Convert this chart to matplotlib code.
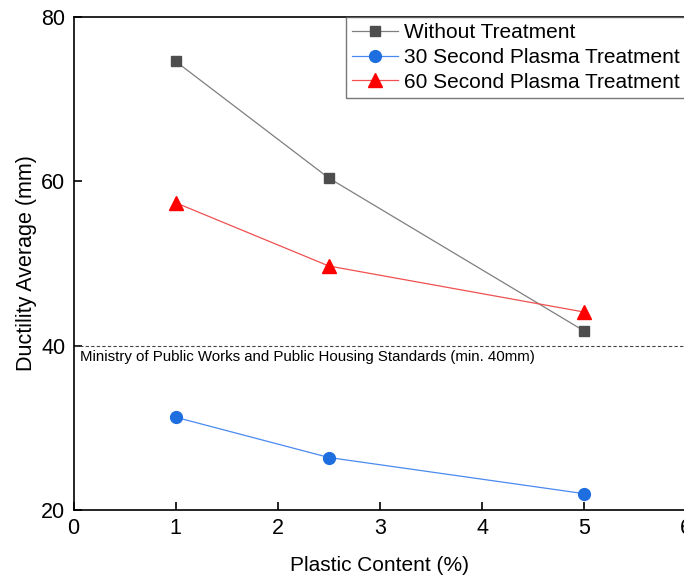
import matplotlib.pyplot as plt

plastic = [1, 2.5, 5]
without = [74.6, 60.4, 41.8]
plasma30 = [31.3, 26.4, 22.0]
plasma60 = [57.4, 49.7, 44.1]
standard = 40

plt.rcParams['font.family'] = ['Liberation Sans', 'DejaVu Sans']

fig = plt.figure(figsize=(6.84, 5.79), dpi=100)
ax = fig.add_axes([0.1076, 0.119, 0.8957, 0.8516])

ax.plot(plastic, without, color='#7f7f7f', lw=0.9, marker='s', ms=7.5,
        mfc='#4d4d4d', mec='#4d4d4d', label='Without Treatment')
ax.plot(plastic, plasma30, color='#4a8af0', lw=0.9, marker='o', ms=8.5,
        mfc='#1f6ee0', mec='#1f6ee0', label='30 Second Plasma Treatment')
ax.plot(plastic, plasma60, color='#f05050', lw=0.9, marker='^', ms=10,
        mfc='#ff0000', mec='#ff0000', label='60 Second Plasma Treatment')

ax.axhline(standard, color='#444444', lw=0.8, ls=(0, (3, 2)))
ax.text(0.06, standard - 0.5, 'Ministry of Public Works and Public Housing Standards (min. 40mm)',
        fontsize=10.8, va='top', ha='left')

ax.set_xlim(0, 6)
ax.set_ylim(20, 80)
ax.set_xticks([0, 1, 2, 3, 4, 5, 6])
ax.set_yticks([20, 40, 60, 80])
ax.tick_params(direction='in', labelsize=15.5, length=6, width=1.2, pad=6)
for s in ax.spines.values():
    s.set_linewidth(1.2)

ax.set_xlabel('Plastic Content (%)', fontsize=15, labelpad=12)
ax.set_ylabel('Ductility Average (mm)', fontsize=15.5, labelpad=3)

leg = ax.legend(loc='upper right', fontsize=15, frameon=True, fancybox=False,
                edgecolor='#555555', borderaxespad=0, handlelength=2.2,
                borderpad=0.3, labelspacing=0.27, handletextpad=0.3)
leg.get_frame().set_linewidth(1.0)

fig.savefig('out.png', dpi=100)
